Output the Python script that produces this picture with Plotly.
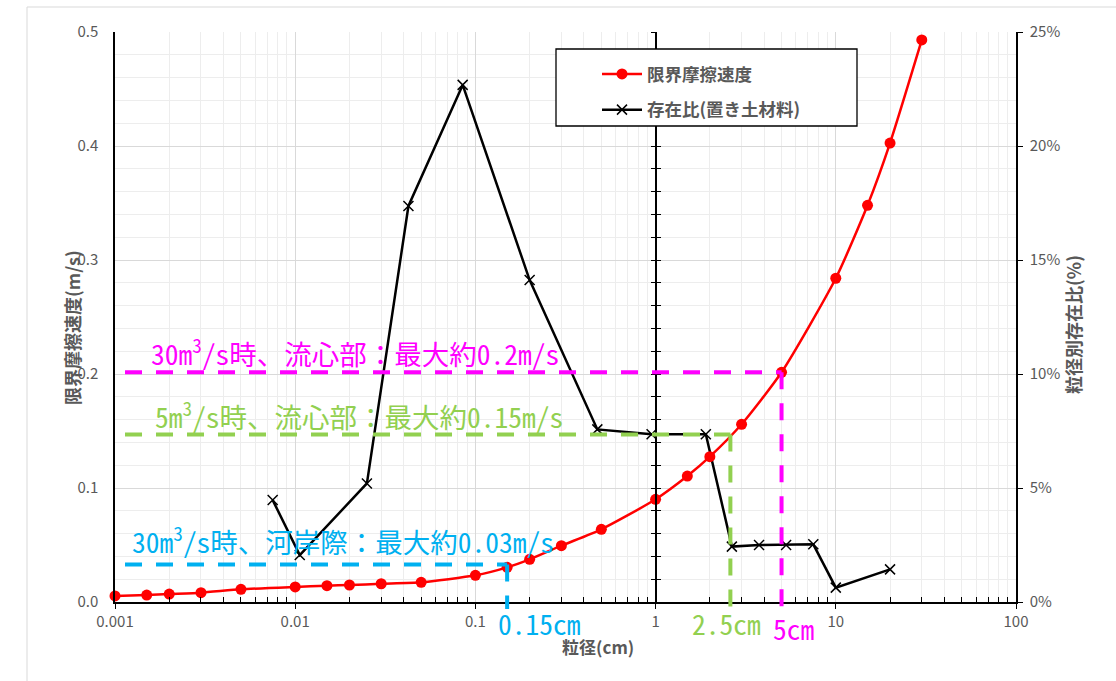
import plotly.graph_objects as go

# ---------------- data ----------------
grain_size_red = [0.001, 0.0015, 0.002, 0.003, 0.005, 0.01, 0.015, 0.02, 0.03, 0.05,
                  0.1, 0.15, 0.2, 0.3, 0.5, 1, 1.5, 2, 3, 5, 10, 15, 20, 30]
crit_velocity = [0.0053, 0.0061, 0.0070, 0.0082, 0.0111, 0.0132, 0.0143, 0.0149, 0.0160, 0.0173,
                 0.0234, 0.0304, 0.0374, 0.0494, 0.0638, 0.0901, 0.1105, 0.1275, 0.1559, 0.2015,
                 0.284, 0.348, 0.4026, 0.493]

grain_size_blk = [0.0075, 0.0106, 0.025, 0.0425, 0.085, 0.2, 0.475, 0.95, 1.9, 2.65,
                  3.75, 5.3, 7.5, 10, 20]
ratio_pct = [4.47, 2.06, 5.2, 17.37, 22.68, 14.12, 7.57, 7.36, 7.36, 2.43,
             2.5, 2.5, 2.53, 0.63, 1.43]

x_tickvals = [0.001, 0.01, 0.1, 1, 10, 100]
x_ticktext = ["0.001", "0.01", "0.1", "1", "10", "100"]

guide_level = [0.2015, 0.147, 0.033]           # m/s
guide_size = [5, 2.6, 0.15]                    # cm
guide_color = ["#FF00FF", "#92D050", "#00B0F0"]
guide_text = ["30m<sup>3</sup>/s時、流心部：最大約0.2m/s",
              "5m<sup>3</sup>/s時、流心部：最大約0.15m/s",
              "30m<sup>3</sup>/s時、河岸際：最大約0.03m/s"]
size_label = ["5cm", "2.5cm", "0.15cm"]

# ---------------- layout helpers ----------------
W, H = 1116, 681
L, R, T, B = 115, 1016, 32, 602
def px_x(p):
    return (p - L) / (R - L)
def px_y(p):
    return (B - p) / (B - T)

GRAY = "#595959"
JP = "Noto Sans CJK JP"
MONO = "Noto Sans Mono CJK JP, Noto Sans CJK JP"

# minor tick positions of the log axis (2..9 in every decade)
minor_vals = [m * x_tickvals[i] for i in range(len(x_tickvals) - 1) for m in range(2, 10)]

fig = go.Figure()

fig.add_trace(go.Scatter(
    x=grain_size_red, y=crit_velocity, yaxis="y2", name="<b>限界摩擦速度</b>",
    mode="lines+markers", line=dict(color="#FF0000", width=2.5, shape="spline", smoothing=0.6),
    marker=dict(symbol="circle", size=11, color="#FF0000"), cliponaxis=False,
    legendgroup="a", legendrank=1))

fig.add_trace(go.Scatter(
    x=grain_size_blk, y=ratio_pct, yaxis="y", name="<b>存在比(置き土材料)</b>",
    mode="lines+markers", line=dict(color="#000000", width=2.5),
    marker=dict(symbol="x-thin", size=10, color="#000000", line=dict(width=1.5, color="#000000")),
    legendgroup="b", legendrank=2))

# empty traces so the axis line at x=1 is drawn
fig.add_trace(go.Scatter(x=[], y=[], yaxis="y3", showlegend=False, hoverinfo="skip"))
fig.add_trace(go.Scatter(x=[], y=[], yaxis="y4", showlegend=False, hoverinfo="skip"))

shapes = []
annotations = []

# chart area border
shapes.append(dict(type="rect", xref="paper", yref="paper", layer="below",
                   x0=px_x(27), x1=px_x(1125), y0=px_y(7), y1=px_y(700),
                   line=dict(color="#D9D9D9", width=1), fillcolor="rgba(0,0,0,0)"))

# legend box
shapes.append(dict(type="rect", xref="paper", yref="paper", layer="above",
                   x0=px_x(556), x1=px_x(857), y0=px_y(49), y1=px_y(126),
                   line=dict(color="#000000", width=1.3), fillcolor="white"))

x_start = 10 ** (-3 + 10 / 180)
for lvl, sz, col in zip(guide_level, guide_size, guide_color):
    shapes.append(dict(type="line", xref="x", yref="y2", x0=x_start, x1=sz, y0=lvl, y1=lvl,
                       line=dict(color=col, width=4, dash="17px,14px")))
    shapes.append(dict(type="line", xref="x", yref="paper", x0=sz, x1=sz,
                       y0=lvl / 0.5, y1=px_y(609),
                       line=dict(color=col, width=4, dash="17px,14px")))

text_pos = [(149, 352), (153, 415), (130, 540)]
for (tx, ty), txt, col in zip(text_pos, guide_text, guide_color):
    annotations.append(dict(xref="paper", yref="paper", x=px_x(tx), y=px_y(ty),
                            xanchor="left", yanchor="middle", showarrow=False, text=txt,
                            font=dict(family=MONO, size=27.5, color=col)))

label_pos = [(793, 628), (726, 623), (539, 623)]
for (tx, ty), txt, col in zip(label_pos, size_label, guide_color):
    annotations.append(dict(xref="paper", yref="paper", x=px_x(tx), y=px_y(ty),
                            xanchor="center", yanchor="middle", showarrow=False, text=txt,
                            font=dict(family=MONO, size=27.5, color=col)))

# axis titles
annotations.append(dict(xref="paper", yref="paper", x=px_x(598), y=px_y(661), showarrow=False,
                        text="<b>粒径(cm)</b>", font=dict(family=JP, size=17, color=GRAY)))
annotations.append(dict(xref="paper", yref="paper", x=px_x(57), y=px_y(328), showarrow=False,
                        textangle=-90, text="<b>限界摩擦速度(m/s)</b>",
                        font=dict(family=JP, size=18, color=GRAY)))
annotations.append(dict(xref="paper", yref="paper", x=px_x(1088), y=px_y(325), showarrow=False,
                        textangle=-90, text="<b>粒径別存在比(%)</b>",
                        font=dict(family=JP, size=18, color=GRAY)))

tickfont = dict(family=JP, size=15, color=GRAY)

fig.update_layout(
    width=W, height=H, margin=dict(l=L, r=W - R, t=T, b=H - B, pad=0),
    paper_bgcolor="white", plot_bgcolor="white",
    showlegend=True,
    legend=dict(x=px_x(597), y=px_y(56), xanchor="left", yanchor="top",
                bgcolor="rgba(0,0,0,0)", borderwidth=0,
                font=dict(family=JP, size=17.5, color=GRAY),
                traceorder="grouped", tracegroupgap=10, itemwidth=40),
    xaxis=dict(type="log", range=[-3, 2], tickvals=x_tickvals, ticktext=x_ticktext,
               showline=True, linecolor="#000000", linewidth=1.5,
               ticks="outside", ticklen=5, tickcolor="#000000",
               showgrid=True, gridcolor="#D9D9D9", gridwidth=1, zeroline=False,
               minor=dict(tickvals=minor_vals, ticks="inside", ticklen=5, tickcolor="#000000",
                          showgrid=True, gridcolor="#EDEDED", gridwidth=1),
               tickfont=tickfont, anchor="y"),
    yaxis=dict(range=[0, 25], dtick=5, tick0=0, side="right", ticksuffix="%",
               showline=True, linecolor="#000000", linewidth=1.5,
               ticks="outside", ticklen=5, tickcolor="#000000",
               showgrid=True, gridcolor="#D9D9D9", gridwidth=1, zeroline=False,
               minor=dict(dtick=1, showgrid=True, gridcolor="#EDEDED", gridwidth=1),
               tickfont=tickfont, ticklabelstandoff=4),
    yaxis2=dict(range=[0, 0.5], dtick=0.1, tick0=0, tickformat=".1f", side="left",
                overlaying="y", showline=True, linecolor="#000000", linewidth=1.5,
                ticks="", showgrid=False, zeroline=False, tickfont=tickfont,
                ticklabelstandoff=12),
    yaxis3=dict(range=[0, 0.5], dtick=0.02, tick0=0, overlaying="y", anchor="free",
                position=0.6, side="left", showline=True, linecolor="#000000", linewidth=1.5,
                ticks="outside", ticklen=4, tickcolor="#000000", showticklabels=False,
                showgrid=False, zeroline=False),
    yaxis4=dict(range=[0, 0.5], dtick=0.02, tick0=0, overlaying="y", anchor="free",
                position=0.6, side="left", showline=False,
                ticks="inside", ticklen=4, tickcolor="#000000", showticklabels=False,
                showgrid=False, zeroline=False),
    shapes=shapes, annotations=annotations,
)

fig.write_html("out.html", config={"displayModeBar": False},
               post_script="document.body.style.margin='0px';")
